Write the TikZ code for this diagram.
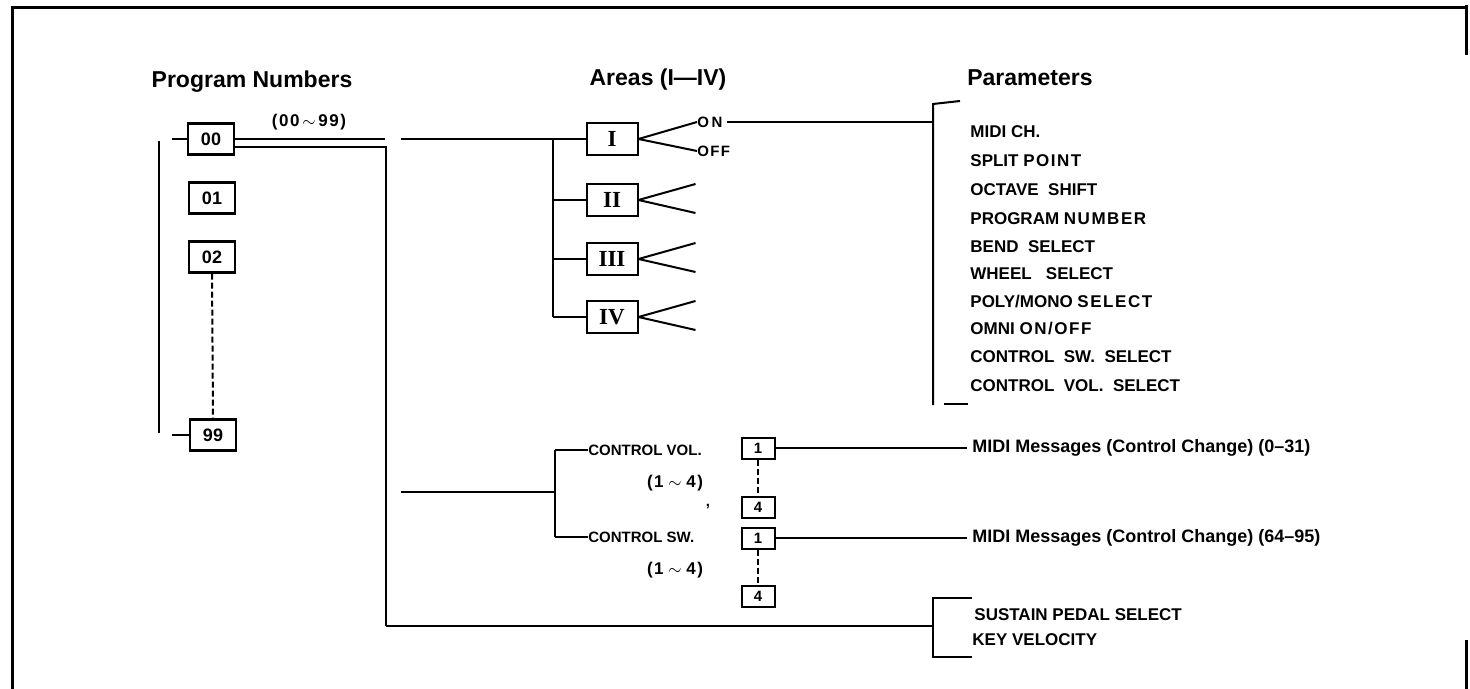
\documentclass[tikz,border=0pt]{standalone}
\usepackage{fontspec}
\setmainfont{Liberation Sans}
\newfontfamily\romfont{Liberation Serif}
\newfontfamily\ancho[LetterSpace=9]{Liberation Sans}
\usetikzlibrary{positioning, calc}
\tikzset{
  numbox/.style={rectangle, draw, line width=1.2pt, minimum width=23pt, minimum height=15.5pt, inner sep=0pt, font=\bfseries\fontsize{9}{10}\selectfont},
  areabox/.style={rectangle, draw, line width=1pt, minimum width=25.5pt, minimum height=16pt, inner sep=0pt, font=\romfont\bfseries\fontsize{11.5}{13}\selectfont},
  ctlbox/.style={rectangle, draw, line width=1pt, minimum width=16.5pt, minimum height=10.5pt, inner sep=0pt, font=\bfseries\fontsize{7.5}{8}\selectfont},
  titulo/.style={font=\bfseries\fontsize{11.5}{13}\selectfont},
  param/.style={anchor=west, inner sep=0pt, font=\bfseries\fontsize{8.5}{10}\selectfont},
  etiq/.style={anchor=west, inner sep=0pt, font=\bfseries\fontsize{7.5}{9}\selectfont},
  rangos/.style={inner sep=0pt, font=\ancho\bfseries\fontsize{8.5}{10}\selectfont},
  linea/.style={line width=1pt},
  puntos/.style={line width=1pt, dash pattern=on 3pt off 1.5pt},
  marco/.style={line width=1.5pt}
}

\begin{document}
\begin{tikzpicture}[x=0.5pt, y=-0.5pt]
  \useasboundingbox (0,0) rectangle (1470,689);
  % marco
  \draw [marco] (12,689) -- (12,8) -- (1465,8);
  \draw [marco] (1466,5) -- (1466,55);
  \draw [marco] (1466,640) -- (1466,689);
  % titulos
  \node (tprog) [titulo] at (252,82) {Program Numbers};
  \node (tarea) [titulo] at (658,80) {Areas (I---IV)};
  \node (tpar) [titulo] at (1030,78) {Parameters};
  \node (rango) [rangos] at (309,122) {(00\,$\sim$\,99)};
  % numeros de programa
  \node (n00) [numbox] at (211,139) {00};
  \node (n01) [numbox] at (212,198) {01};
  \node (n02) [numbox] at (212,257) {02};
  \node (n99) [numbox] at (213,435) {99};
  \coordinate (s00) at (172,139);
  \coordinate (s99) at (172,435);
  \draw [linea] (s00) -- (n00.west);
  \draw [linea] (s99) -- (n99.west);
  \draw [linea] (159,141) -- (159,433);
  \draw [puntos] (n02.south) -- (n99.north);
  % salidas de 00
  \coordinate (cA) at (385,139);
  \coordinate (cB) at (386,147);
  \coordinate (cC) at (386,626);
  \draw [linea] (n00.east) -- (cA);
  \draw [linea] ($(n00.east)+(0,8)$) -- (cB) -- (cC);
  % areas
  \node (aI) [areabox] at (612,139) {I};
  \node (aII) [areabox] at (612,200) {II};
  \node (aIII) [areabox] at (612,259) {III};
  \node (aIV) [areabox] at (612,317) {IV};
  \coordinate (bA) at (553,139);
  \coordinate (bB) at (553,317);
  \draw [linea] (401,139) -- (aI.west);
  \draw [linea] (bA) -- (bB);
  \foreach \a in {aII, aIII, aIV}
    \draw [linea] (bA |- \a.west) -- (\a.west);
  \node (on) [etiq, font=\ancho\bfseries\fontsize{7.5}{9}\selectfont] at (697,122) {O\,N};
  \node (off) [etiq, font=\ancho\bfseries\fontsize{7.5}{9}\selectfont] at (697,151) {OFF};
  \draw [linea] (aI.east) -- (on.west);
  \draw [linea] (aI.east) -- (off.west);
  \foreach \a in {aII, aIII, aIV} {
    \draw [linea] (\a.east) -- +(57,-16);
    \draw [linea] (\a.east) -- +(57,13);
  }
  \coordinate (pA) at (933,122);
  \draw [linea, shorten <=2pt] (on.east) -- (pA);
  % parametros
  \draw [linea] (960,101) -- (933,104) -- (933,405);
  \draw [linea] (944,404) -- (968,404);
  \node (p1) [param] at (970,132) {MIDI CH.};
  \node (p2) [param] at (970,161) {SPLIT {\ancho POINT}};
  \node (p3) [param] at (970,190) {OCTAVE\ \ SHIFT};
  \node (p4) [param] at (970,219) {PROGRAM {\ancho NUMBER}};
  \node (p5) [param] at (970,247) {BEND\ \ SELECT};
  \node (p6) [param] at (970,274) {WHEEL\ \ \ SELECT};
  \node (p7) [param] at (970,302) {POLY/MONO {\ancho SELECT}};
  \node (p8) [param] at (970,329) {OMNI {\ancho ON/OFF}};
  \node (p9) [param] at (970,357) {CONTROL\ \ SW.\ \ SELECT};
  \node (p10) [param] at (970,386) {CONTROL\ \ VOL.\ \ SELECT};
  % controles
  \coordinate (kA) at (555,450);
  \coordinate (kB) at (555,537);
  \draw [linea] (401,492) -- (kA |- 0,492);
  \draw [linea] (kA) -- (kB);
  \node (lvol) [etiq] at (588,450) {CONTROL VOL.};
  \node (lsw) [etiq] at (588,537) {CONTROL SW.};
  \draw [linea] (kA) -- (lvol.west);
  \draw [linea] (kB) -- (lsw.west);
  \node (rvol) [rangos] at (675,483) {(1\;$\sim$\;4)};
  \node (rsw) [rangos] at (675,570) {(1\;$\sim$\;4)};
  \node (coma) [etiq, anchor=center] at (708,507) {,};
  \node (cv1) [ctlbox] at (758,448) {1};
  \node (cv4) [ctlbox] at (758,507) {4};
  \node (cs1) [ctlbox] at (758,538) {1};
  \node (cs4) [ctlbox] at (758,596) {4};
  \draw [puntos] (cv1.south) -- (cv4.north);
  \draw [puntos] (cs1.south) -- (cs4.north);
  \node (m1) [param, font=\bfseries\fontsize{9}{10}\selectfont] at (972,448) {MIDI Messages (Control Change) (0--31)};
  \node (m2) [param, font=\bfseries\fontsize{9}{10}\selectfont] at (972,538) {MIDI Messages (Control Change) (64--95)};
  \draw [linea, shorten >=2.5pt] (cv1.east) -- (m1.west);
  \draw [linea, shorten >=2.5pt] (cs1.east) -- (m2.west);
  % pedal y velocidad
  \draw [linea] (cC) -- (933,626);
  \draw [linea] (972,598) -- (933,598) -- (933,657) -- (972,657);
  \node (sus) [param] at (974,615) {SUSTAIN PEDAL SELECT};
  \node (vel) [param] at (972,640) {KEY VELOCITY};
\end{tikzpicture}
\end{document}
